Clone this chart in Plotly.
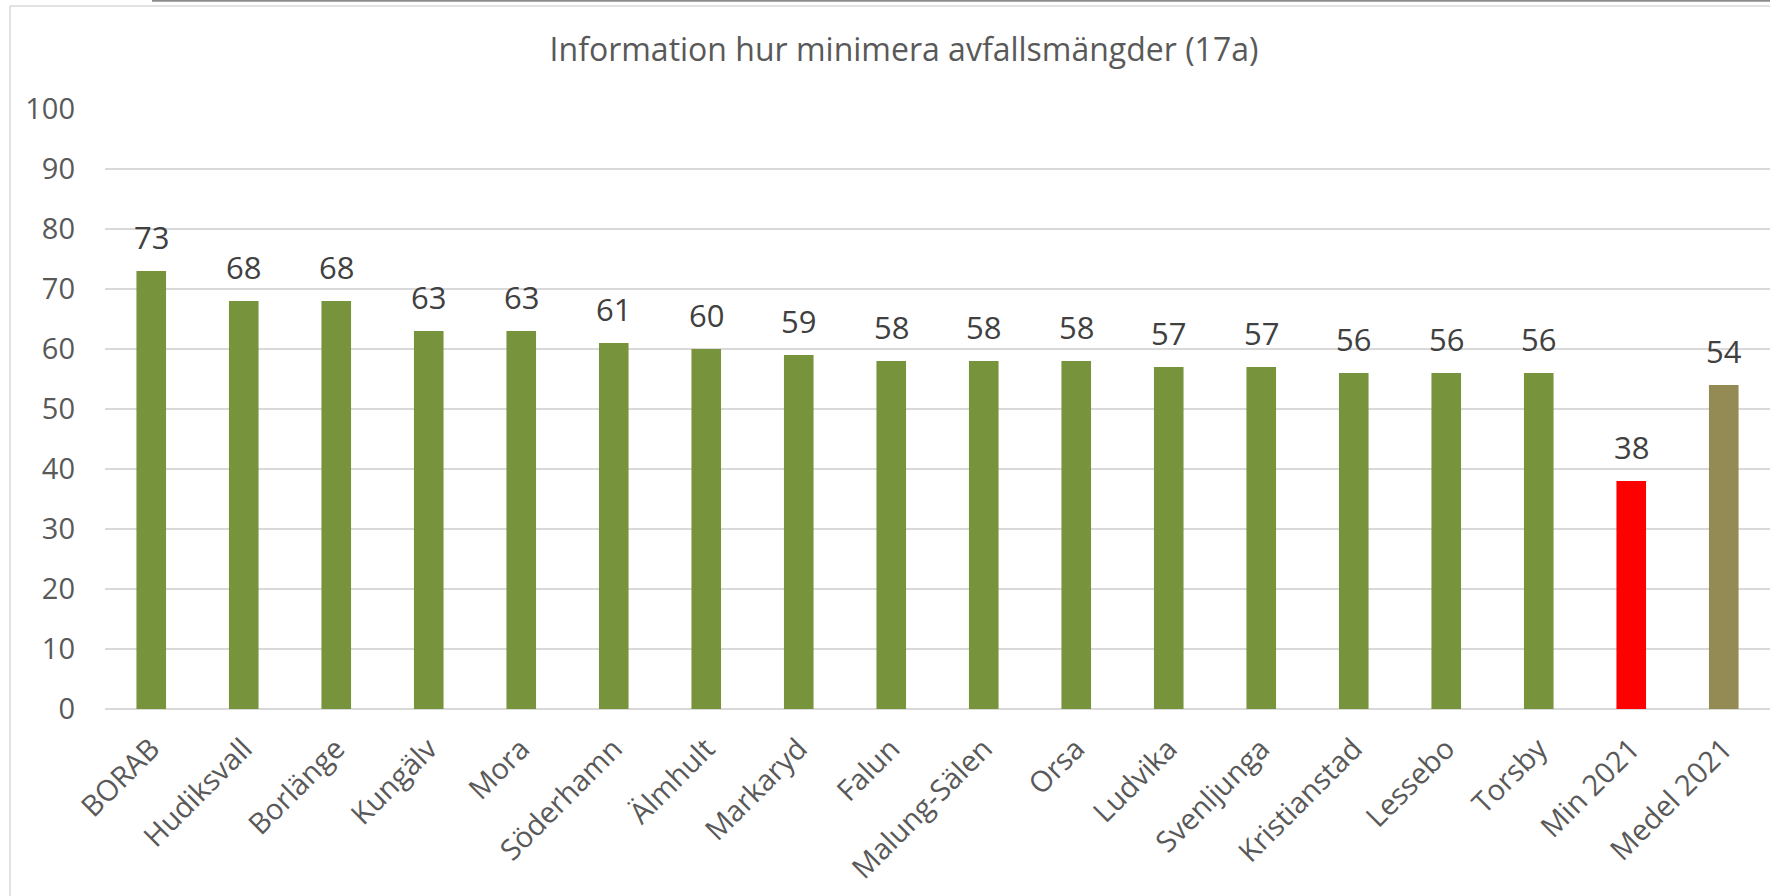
import plotly.graph_objects as go

categories = ["BORAB", "Hudiksvall", "Borlänge", "Kungälv", "Mora", "Söderhamn",
              "Älmhult", "Markaryd", "Falun", "Malung-Sälen", "Orsa", "Ludvika",
              "Svenljunga", "Kristianstad", "Lessebo", "Torsby", "Min 2021", "Medel 2021"]
values = [73, 68, 68, 63, 63, 61, 60, 59, 58, 58, 58, 57, 57, 56, 56, 56, 38, 54]
bar_colors = ["#77933C"] * 16 + ["#FF0000", "#948A54"]
y_ticks = [0, 10, 20, 30, 40, 50, 60, 70, 80, 90, 100]
title_text = "Information hur minimera avfallsmängder (17a)"

FONT = "Open Sans"

fig = go.Figure()
fig.add_trace(go.Bar(
    x=categories, y=values,
    marker=dict(color=bar_colors, line=dict(width=0)),
    hoverinfo="x+y",
))

for c, v in zip(categories, values):
    fig.add_annotation(x=c, y=v, text=str(v), showarrow=False,
                       yanchor="middle", yshift=34,
                       font=dict(family=FONT, size=31, color="#404040"))

W, H = 1770, 896
L, T, PW, PH = 105, 109, 1665, 600

def px(xp):
    return (xp - L) / PW

def py(yp):
    return (T + PH - yp) / PH

shapes = [
    dict(type="rect", xref="paper", yref="paper",
         x0=px(10), x1=px(1790), y0=py(950), y1=py(6),
         line=dict(color="#d9d9d9", width=1.5), fillcolor="rgba(0,0,0,0)", layer="below"),
    dict(type="line", xref="paper", yref="paper",
         x0=px(152), x1=px(1790), y0=py(0.8), y1=py(0.8),
         line=dict(color="#8c8c8c", width=2)),
]

fig.update_layout(
    width=W, height=H,
    margin=dict(l=L, r=W - L - PW, t=T, b=H - T - PH, pad=0),
    paper_bgcolor="white", plot_bgcolor="white",
    bargap=0.68,
    showlegend=False,
    title=dict(text=title_text, x=904 / W, xref="container",
               xanchor="center", y=1 - 50 / H, yanchor="middle",
               font=dict(family=FONT, size=32, color="#595959")),
    shapes=shapes,
    font=dict(family=FONT, color="#595959"),
)
fig.update_xaxes(
    range=[-0.5, 17.5], tickangle=-45,
    tickfont=dict(family=FONT, size=29, color="#595959"),
    showgrid=False, showline=False, ticks="", ticklabelstandoff=16,
)
fig.update_yaxes(
    range=[0, 100], tickvals=y_ticks,
    tickfont=dict(family=FONT, size=29, color="#595959"),
    showgrid=True, gridcolor="#d9d9d9", gridwidth=1.6,
    zeroline=True, zerolinecolor="#d9d9d9", zerolinewidth=2,
    showline=False, ticks="", ticklabelstandoff=29,
)

fig.write_html("out.html", config={"displayModeBar": False},
               post_script="document.body.style.margin='0';")
